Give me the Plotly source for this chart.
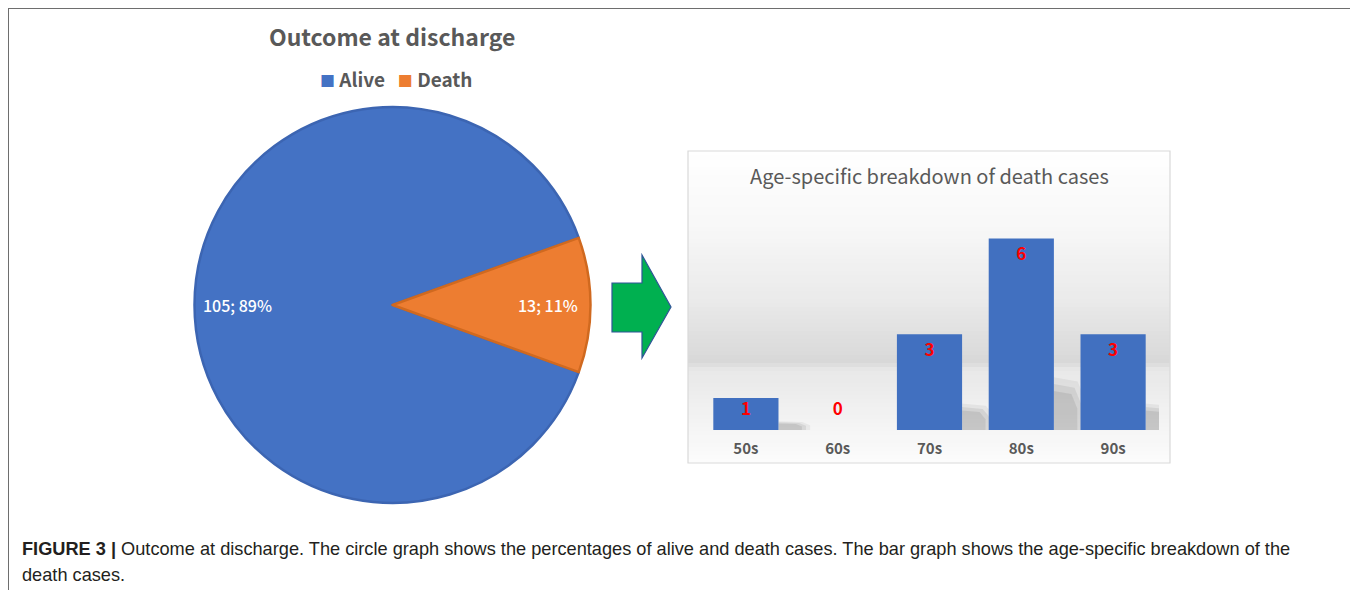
import math
import plotly.graph_objects as go

W, H = 1358, 590
OFF = 8  # page body margin of the html page

# ---------------- data ----------------
outcome_labels = ["Alive", "Death"]
outcome_values = [105, 13]
outcome_colors = ["#4472C4", "#ED7D31"]
outcome_edges = ["#3C65B2", "#D0691F"]

age_groups = ["50s", "60s", "70s", "80s", "90s"]
death_counts = [1, 0, 3, 6, 3]

pie_title = "Outcome at discharge"
bar_title = "Age-specific breakdown of death cases"
caption_bold = "FIGURE 3 |"
caption_line1 = " Outcome at discharge. The circle graph shows the percentages of alive and death cases. The bar graph shows the age-specific breakdown of the"
caption_line2 = "death cases."

JP = "Noto Sans CJK JP, Noto Sans, sans-serif"


def px(x):
    return (x - OFF) / W


def py(y):
    return 1 - (y - OFF) / H


def note(x, y, text, font, xanchor="center"):
    fig.add_annotation(x=px(x), y=py(y), xref="paper", yref="paper",
                       xanchor=xanchor, yanchor="middle", text=text,
                       showarrow=False, font=font)


fig = go.Figure()

# ---------------- pie ----------------
cx, cy, R = 392.5, 305.0, 198.0
total = sum(outcome_values)
death_mid = 360.0 * (total - outcome_values[1] / 2) / total
rotation = 90.0 - death_mid  # centre the Death slice at 3 o'clock

fig.add_trace(go.Pie(
    labels=outcome_labels,
    values=outcome_values,
    sort=False,
    direction="clockwise",
    rotation=rotation,
    marker=dict(colors=outcome_colors, line=dict(color=outcome_edges, width=2.5)),
    textinfo="none",
    hoverinfo="label+value+percent",
    showlegend=False,
    domain=dict(x=[px(cx - R), px(cx + R)], y=[py(cy + R), py(cy - R)]),
))

# slice labels computed from the data
start = rotation
for lab, v in zip(outcome_labels, outcome_values):
    span = 360.0 * v / total
    mid = math.radians(start + span / 2)
    start += span
    lx = cx + 0.785 * R * math.sin(mid)
    ly = cy - 0.785 * R * math.cos(mid)
    pct = round(100 * v / total)
    note(lx, ly, f"{v}; {pct}%", dict(family=JP, size=16, color="white", weight=500))

# pie title & legend
note(392, 36, f"<b>{pie_title}</b>", dict(family=JP, size=23, color="#595959"))
legend_parts = []
for lab, col in zip(outcome_labels, outcome_colors):
    legend_parts.append(f"<span style='color:{col};font-size:15px'>■</span> <b>{lab}</b>")
note(396, 78, "   ".join(legend_parts), dict(family=JP, size=19, color="#595959"))

# ---------------- arrow (decoration) ----------------
arrow_pts = [(612, 283), (642, 283), (642, 255), (671, 307), (642, 358), (642, 332), (612, 332)]
path = "M " + " L ".join(f"{px(x):.5f},{py(y):.5f}" for x, y in arrow_pts) + " Z"
fig.add_shape(type="path", path=path, xref="paper", yref="paper",
              fillcolor="#00B050", line=dict(color="#2F5597", width=1.2))

# ---------------- bar panel background ----------------
bx0, bx1, by0, by1 = 688, 1170, 151, 463


def grey_at(y):
    stops = [(151, 255), (230, 247), (300, 234), (362, 216), (370, 232), (420, 243), (463, 252)]
    for (y0, g0), (y1, g1) in zip(stops[:-1], stops[1:]):
        if y0 <= y <= y1:
            t = (y - y0) / (y1 - y0)
            return int(round(g0 + (g1 - g0) * t))
    return 255


step = 4
y = by0
while y < by1:
    y2 = min(y + step, by1)
    g = grey_at((y + y2) / 2)
    fig.add_shape(type="rect", xref="paper", yref="paper",
                  x0=px(bx0), x1=px(bx1), y0=py(y2), y1=py(y),
                  fillcolor=f"rgb({g},{g},{g})", line=dict(width=0), layer="below")
    y = y2
fig.add_shape(type="rect", xref="paper", yref="paper",
              x0=px(bx0), x1=px(bx1), y0=py(by1), y1=py(by0),
              fillcolor="rgba(0,0,0,0)", line=dict(color="#D9D9D9", width=1.2), layer="below")

note(929, 176, bar_title, dict(family=JP, size=20, color="#595959"))

# ---------------- bars ----------------
base_y, unit = 430.0, 31.9
ymax = 7
bargap = 0.29
half = (1 - bargap) / 2

# soft perspective shadows behind the bars (derived from the bar heights)
for i, v in enumerate(death_counts):
    if v <= 0:
        continue
    e = i + half
    for k, (grow, alpha) in enumerate([(1.15, 0.05), (1.0, 0.07), (0.85, 0.08)]):
        hgt = 0.24 * v * grow
        dx = 0.30 * grow
        p = (f"M {e},0 L {e},{hgt:.3f} L {e + dx * 0.75:.3f},{hgt * 0.92:.3f} "
             f"L {e + dx:.3f},{hgt * 0.55:.3f} L {e + dx:.3f},0 Z")
        fig.add_shape(type="path", path=p, xref="x", yref="y",
                      fillcolor=f"rgba(0,0,0,{alpha})", line=dict(width=0), layer="below")

fig.add_trace(go.Bar(
    x=age_groups, y=death_counts,
    marker=dict(color="#4170C0", line=dict(width=0)),
    showlegend=False, xaxis="x", yaxis="y",
))
label_y = [max(v - 0.55, 0.6) for v in death_counts]
fig.add_trace(go.Scatter(
    x=age_groups, y=label_y, mode="text",
    text=[str(v) for v in death_counts],
    textfont=dict(family=JP, size=17, color="#FF0000", weight="bold"),
    showlegend=False, hoverinfo="skip", xaxis="x", yaxis="y",
))

fig.update_layout(
    width=W, height=H,
    margin=dict(l=0, r=0, t=0, b=0),
    paper_bgcolor="white", plot_bgcolor="rgba(0,0,0,0)",
    bargap=bargap,
    xaxis=dict(domain=[px(700), px(1159)], range=[-0.5, len(age_groups) - 0.5],
               showgrid=False, zeroline=False, showline=False,
               ticks="outside", ticklen=5, tickcolor="rgba(0,0,0,0)",
               tickfont=dict(family=JP, size=15, color="#595959", weight="bold"),
               fixedrange=True),
    yaxis=dict(domain=[py(base_y), py(base_y - ymax * unit)], range=[0, ymax],
               visible=False, fixedrange=True),
)

# ---------------- frame & caption ----------------
fig.add_shape(type="rect", xref="paper", yref="paper",
              x0=px(8), x1=px(1355), y0=py(620), y1=py(8),
              line=dict(color="#6E6E6E", width=2), fillcolor="rgba(0,0,0,0)")
cap_font = dict(family="Liberation Sans, Arial, sans-serif", size=18.2, color="#231F20")
note(20, 549, f"<b>{caption_bold}</b>{caption_line1}", cap_font, xanchor="left")
note(20, 575, caption_line2, cap_font, xanchor="left")

fig.write_html("out.html")
